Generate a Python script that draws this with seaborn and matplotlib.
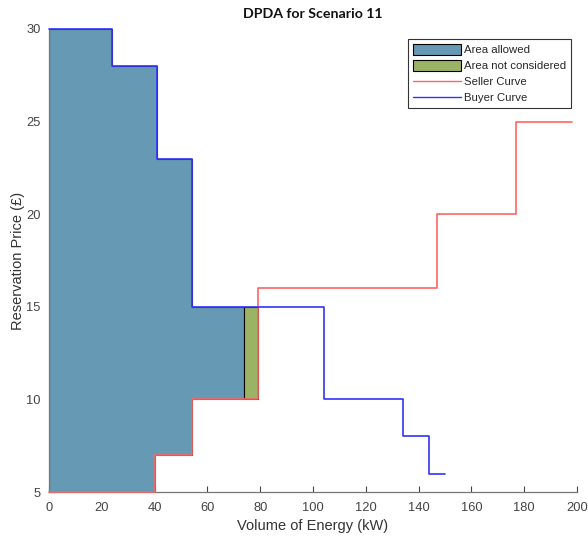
import numpy as np
import pandas as pd
import matplotlib
matplotlib.use("Agg")
import matplotlib.pyplot as plt
import seaborn as sns
from matplotlib.patches import Patch
from matplotlib.lines import Line2D

# ---- data ----
buyer_volume = [0, 24, 41, 54, 104, 134, 144, 150]
buyer_price = [30, 28, 23, 15, 10, 8, 6]
seller_volume = [0, 40, 54, 79, 147, 177, 198]
seller_price = [5, 7, 10, 16, 20, 25]
allowed_volume = [0, 24, 40, 41, 54, 74]
allowed_upper = [30, 28, 28, 23, 15, 15]
allowed_lower = [5, 5, 7, 7, 10, 10]
not_considered_volume = [74, 79]
not_considered_upper = [15, 15]
not_considered_lower = [10, 10]

x_ticks = [0, 20, 40, 60, 80, 100, 120, 140, 160, 180, 200]
y_ticks = [5, 10, 15, 20, 25, 30]

sns.set_theme(style="white")
plt.rcParams['font.family'] = ['Liberation Sans', 'DejaVu Sans']

fig = plt.figure(figsize=(5.88, 5.36), dpi=100)
ax = fig.add_axes([0.0833, 0.082, 0.898, 0.864])

blue_fill = "#6699b4"
green_fill = "#9bb365"
red_line = "#ff6464"
blue_line = "#3232ff"

ax.fill_between(allowed_volume, allowed_upper, allowed_lower, step="post",
                facecolor=blue_fill, edgecolor="#333333", linewidth=0.8, zorder=1)
ax.fill_between(not_considered_volume, not_considered_upper, not_considered_lower, step="post",
                facecolor=green_fill, edgecolor="black", linewidth=0.8, zorder=1)

buyer_df = pd.DataFrame({"volume": buyer_volume, "price": buyer_price + [buyer_price[-1]]})
seller_df = pd.DataFrame({"volume": seller_volume, "price": seller_price + [seller_price[-1]]})

sns.lineplot(data=seller_df, x="volume", y="price", sort=False, drawstyle="steps-post",
             color=red_line, linewidth=1.2, ax=ax, zorder=3, clip_on=False)
sns.lineplot(data=buyer_df, x="volume", y="price", sort=False, drawstyle="steps-post",
             color=blue_line, linewidth=1.2, ax=ax, zorder=3, clip_on=False)

ax.set_xlim(0, 200)
ax.set_ylim(5, 30)
ax.set_xticks(x_ticks)
ax.set_yticks(y_ticks)
ax.tick_params(axis="both", which="major", direction="in", length=4, width=0.8,
               colors="#444444", labelsize=9.3, labelcolor="#444444",
               bottom=True, left=True)
ax.tick_params(axis="x", pad=7)
ax.tick_params(axis="y", pad=6)
for side in ["top", "right"]:
    ax.spines[side].set_visible(False)
for side in ["left", "bottom"]:
    ax.spines[side].set_color("#777777")
    ax.spines[side].set_linewidth(0.9)
    ax.spines[side].set_zorder(2)

ax.set_xlabel("Volume of Energy (kW)", fontsize=10.5, color="#333333", labelpad=4)
ax.set_ylabel("Reservation Price (£)", fontsize=10.5, color="#333333", labelpad=1)
ax.set_title("DPDA for Scenario 11", fontsize=10.2, fontweight="bold",
             family=["Lato", "DejaVu Sans"], color="#111111", pad=8)

handles = [
    Patch(facecolor=blue_fill, edgecolor="black", linewidth=0.8, label="Area allowed"),
    Patch(facecolor=green_fill, edgecolor="black", linewidth=0.8, label="Area not considered"),
    Line2D([0], [0], color=red_line, linewidth=1.0, label="Seller Curve"),
    Line2D([0], [0], color=blue_line, linewidth=1.0, label="Buyer Curve"),
]
leg = ax.legend(handles=handles, loc="upper right", bbox_to_anchor=(0.988, 0.978),
                fontsize=8.2, frameon=True, fancybox=False, handlelength=4.2,
                handleheight=1.1, handletextpad=0.3, borderpad=0.4, labelspacing=0.42,
                borderaxespad=0)
leg.get_frame().set_edgecolor("black")
leg.get_frame().set_linewidth(0.8)

fig.savefig("out.png", dpi=100)
